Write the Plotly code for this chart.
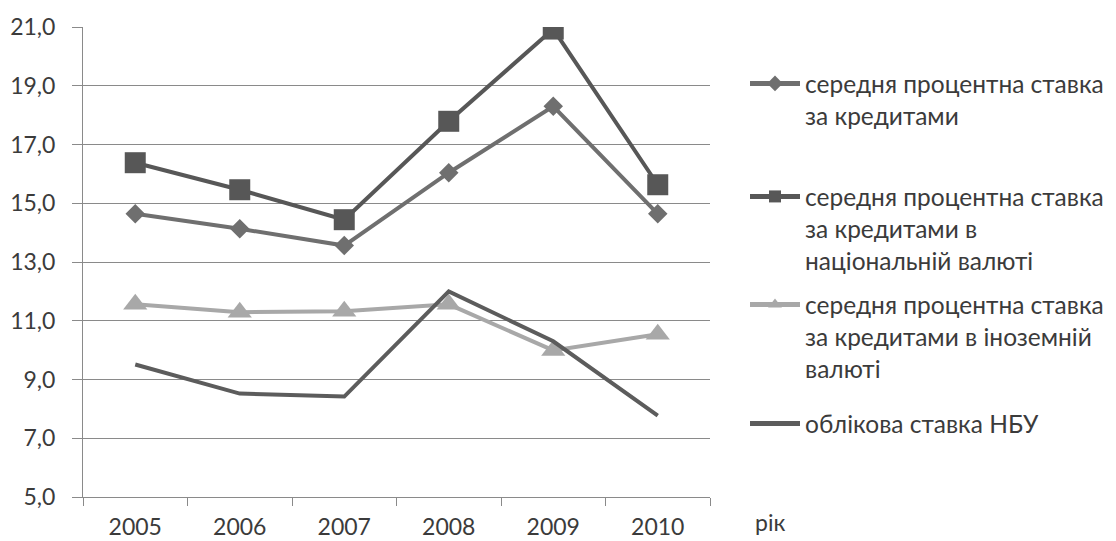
import plotly.graph_objects as go

# Роки та ставки (%)
years = ["2005", "2006", "2007", "2008", "2009", "2010"]
avg_rate = [14.64, 14.13, 13.56, 16.04, 18.30, 14.64]
avg_rate_uah = [16.38, 15.46, 14.44, 17.79, 20.93, 15.63]
avg_rate_fx = [11.56, 11.29, 11.32, 11.56, 9.99, 10.54]
nbu_rate = [9.51, 8.52, 8.42, 12.00, 10.30, 7.77]

names = [
    "середня процентна ставка<br>за кредитами",
    "середня процентна ставка<br>за кредитами в<br>національній валюті",
    "середня процентна ставка<br>за кредитами в іноземній<br>валюті",
    "облікова ставка НБУ",
]

FONT = "Lato, 'Open Sans', sans-serif"
TEXT = "#3b3b3b"

fig = go.Figure()
fig.add_trace(go.Scatter(
    x=years, y=avg_rate, name=names[0], mode="lines+markers",
    line=dict(color="#6f6f6f", width=4),
    marker=dict(symbol="diamond", size=15, color="#6f6f6f"),
    legend="legend",
))
fig.add_trace(go.Scatter(
    x=years, y=avg_rate_uah, name=names[1], mode="lines+markers",
    line=dict(color="#575757", width=4),
    marker=dict(symbol="square", size=21, color="#575757"),
    legend="legend2",
))
fig.add_trace(go.Scatter(
    x=years, y=avg_rate_fx, name=names[2], mode="lines+markers",
    line=dict(color="#a8a8a8", width=4),
    marker=dict(symbol="triangle-up", size=21, color="#a8a8a8"),
    legend="legend3",
))
fig.add_trace(go.Scatter(
    x=years, y=nbu_rate, name=names[3], mode="lines",
    line=dict(color="#5c5c5c", width=4),
    legend="legend4",
))

L, R, T, B = 83, 406, 27, 44
W, H = 1116, 541
pw, ph = W - L - R, H - T - B


def px_x(x):
    return (x - L) / pw


def px_y(y):
    return (H - B - y) / ph


leg_common = dict(
    xanchor="left", yanchor="top", valign="top",
    font=dict(family=FONT, size=24.5, color=TEXT),
    bgcolor="rgba(0,0,0,0)", itemsizing="constant", itemwidth=50,
    tracegroupgap=0,
)

fig.update_layout(
    width=W, height=H,
    margin=dict(l=L, r=R, t=T, b=B, autoexpand=False),
    paper_bgcolor="white", plot_bgcolor="white",
    separators=", ",
    font=dict(family=FONT, size=23, color=TEXT),
    showlegend=True,
    legend=dict(x=px_x(745), y=px_y(61), **leg_common),
    legend2=dict(x=px_x(745), y=px_y(174), **leg_common),
    legend3=dict(x=px_x(745), y=px_y(282), **leg_common),
    legend4=dict(x=px_x(745), y=px_y(401), **leg_common),
    xaxis=dict(
        type="category", range=[-0.5, 5.5], automargin=False,
        showgrid=False, showline=True, linecolor="#8a8a8a", linewidth=1,
        ticks="outside", tickson="boundaries", ticklen=8, tickcolor="#8a8a8a",
        ticklabelstandoff=9,
        tickfont=dict(family=FONT, size=23, color=TEXT),
        zeroline=False,
    ),
    yaxis=dict(
        range=[5, 21], dtick=2, tick0=5, tickformat=".1f", automargin=False,
        showgrid=True, gridcolor="#8a8a8a", gridwidth=1,
        showline=True, linecolor="#8a8a8a", linewidth=1,
        ticks="outside", ticklen=10, tickcolor="#8a8a8a",
        ticklabelstandoff=12,
        tickfont=dict(family=FONT, size=23, color=TEXT),
        zeroline=False,
    ),
    annotations=[dict(
        text="рік", xref="paper", yref="paper",
        x=px_x(753), y=px_y(522), xanchor="left", yanchor="middle",
        showarrow=False, font=dict(family=FONT, size=23, color=TEXT),
    )],
)

fig.write_html("out.html")
